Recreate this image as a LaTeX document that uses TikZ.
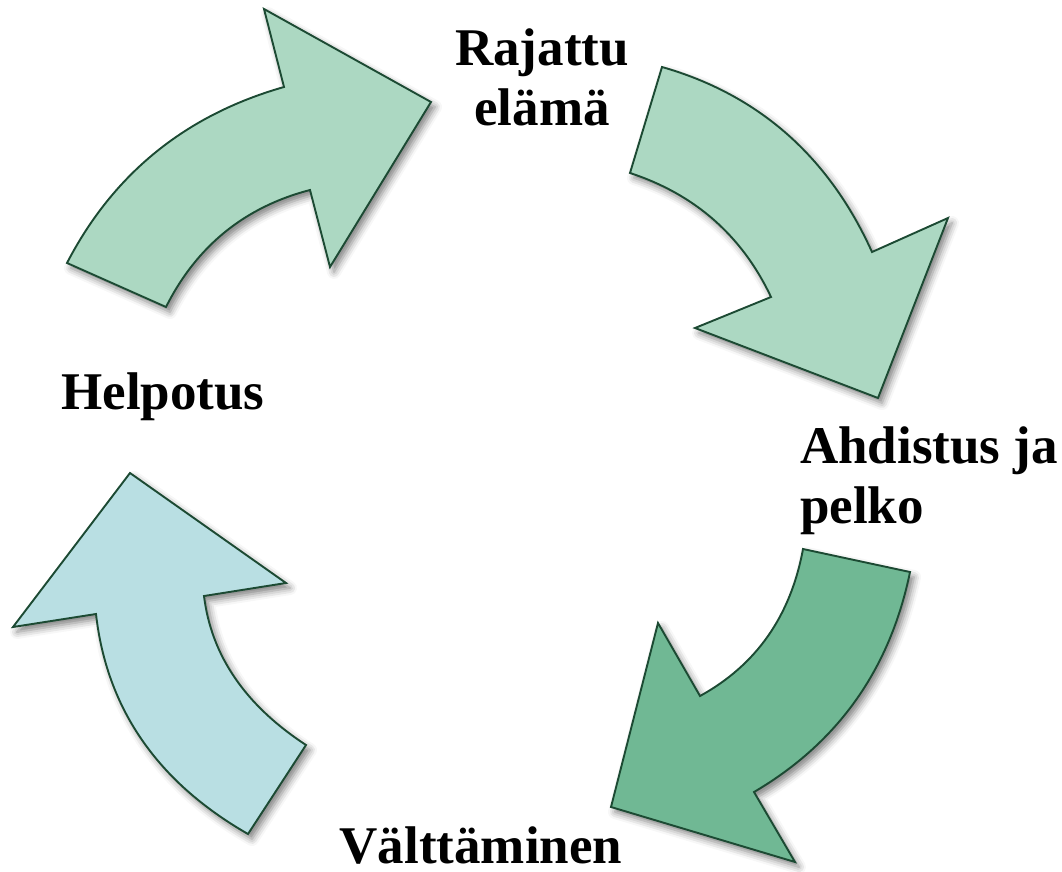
\documentclass[tikz,border=0pt]{standalone}
\usepackage{fontspec}
\setmainfont{Liberation Serif}
\usetikzlibrary{calc,shadows.blur}
\definecolor{mint}{HTML}{ACD8C2}
\definecolor{jade}{HTML}{70B894}
\definecolor{aqua}{HTML}{B9DFE3}
\definecolor{rim}{HTML}{1C4A33}
\tikzset{
  cyclearrow/.style={draw=rim, line width=1.9pt, line join=miter,
    blur shadow={shadow xshift=4pt, shadow yshift=-5pt,
      shadow blur radius=7pt, shadow opacity=50}},
  lbl/.style={font=\fontsize{53}{59}\selectfont\bfseries, inner sep=0pt}
}
% one curved side: from #1 through #2 to #3 (parabolic bend)
\newcommand\bendside[4]{%
  \coordinate (#4) at ($2*(#2)-0.5*(#1)-0.5*(#3)$);}
\begin{document}
\begin{tikzpicture}[x=1pt,y=-1pt]
\useasboundingbox (0,0) rectangle (1062,872);

% ---------- arrow 1: Helpotus -> Rajattu elämä
\coordinate (t1o) at (67,263);   \coordinate (m1o) at (156,152);
\coordinate (s1o) at (284,87);   \coordinate (b1o) at (264,9);
\coordinate (p1)  at (431,102);  \coordinate (b1i) at (330,267);
\coordinate (s1i) at (310,190);  \coordinate (m1i) at (225,232);
\coordinate (t1i) at (166,307);
\bendside{t1o}{m1o}{s1o}{q1o}
\bendside{s1i}{m1i}{t1i}{q1i}
\path[cyclearrow, fill=mint] (t1o)
  .. controls ($(t1o)!2/3!(q1o)$) and ($(s1o)!2/3!(q1o)$) .. (s1o)
  -- (b1o) -- (p1) -- (b1i) -- (s1i)
  .. controls ($(s1i)!2/3!(q1i)$) and ($(t1i)!2/3!(q1i)$) .. (t1i)
  -- cycle;

% ---------- arrow 2: Rajattu elämä -> Ahdistus ja pelko
\coordinate (t2o) at (662,67);   \coordinate (m2o) at (787,134);
\coordinate (s2o) at (872,252);  \coordinate (b2o) at (948,218);
\coordinate (p2)  at (878,398);  \coordinate (b2i) at (695,328);
\coordinate (s2i) at (771,297);  \coordinate (m2i) at (714,220);
\coordinate (t2i) at (630,173);
\bendside{t2o}{m2o}{s2o}{q2o}
\bendside{s2i}{m2i}{t2i}{q2i}
\path[cyclearrow, fill=mint] (t2o)
  .. controls ($(t2o)!2/3!(q2o)$) and ($(s2o)!2/3!(q2o)$) .. (s2o)
  -- (b2o) -- (p2) -- (b2i) -- (s2i)
  .. controls ($(s2i)!2/3!(q2i)$) and ($(t2i)!2/3!(q2i)$) .. (t2i)
  -- cycle;

% ---------- arrow 3: Ahdistus ja pelko -> Välttäminen
\coordinate (t3o) at (910,572);  \coordinate (m3o) at (856,700);
\coordinate (s3o) at (754,792);  \coordinate (b3o) at (795,862);
\coordinate (p3)  at (611,807);  \coordinate (b3i) at (658,623);
\coordinate (s3i) at (700,696);  \coordinate (m3i) at (768,636);
\coordinate (t3i) at (803,549);
\bendside{t3o}{m3o}{s3o}{q3o}
\bendside{s3i}{m3i}{t3i}{q3i}
\path[cyclearrow, fill=jade] (t3o)
  .. controls ($(t3o)!2/3!(q3o)$) and ($(s3o)!2/3!(q3o)$) .. (s3o)
  -- (b3o) -- (p3) -- (b3i) -- (s3i)
  .. controls ($(s3i)!2/3!(q3i)$) and ($(t3i)!2/3!(q3i)$) .. (t3i)
  -- cycle;

% ---------- arrow 4: Välttäminen -> Helpotus
\coordinate (t4o) at (248,834);  \coordinate (m4o) at (142,740);
\coordinate (s4o) at (96,614);   \coordinate (b4o) at (13,627);
\coordinate (p4)  at (130,473);  \coordinate (b4i) at (286,583);
\coordinate (s4i) at (204,596);  \coordinate (m4i) at (235,678);
\coordinate (t4i) at (306,745);
\bendside{t4o}{m4o}{s4o}{q4o}
\bendside{s4i}{m4i}{t4i}{q4i}
\path[cyclearrow, fill=aqua] (t4o)
  .. controls ($(t4o)!2/3!(q4o)$) and ($(s4o)!2/3!(q4o)$) .. (s4o)
  -- (b4o) -- (p4) -- (b4i) -- (s4i)
  .. controls ($(s4i)!2/3!(q4i)$) and ($(t4i)!2/3!(q4i)$) .. (t4i)
  -- cycle;

% ---------- labels (base = baseline of the last line)
\node[lbl, anchor=base, align=center] (rajattu) at (542,125) {Rajattu\\elämä};
\node[lbl, anchor=base west, align=left, font=\fontsize{53}{60}\selectfont\bfseries]
  (ahdistus) at (800,523) {Ahdistus ja\\pelko};
\node[lbl, anchor=base] (valttaminen) at (481,863) {Välttäminen};
\node[lbl, anchor=base] (helpotus) at (163,409) {Helpotus};
\end{tikzpicture}
\end{document}
